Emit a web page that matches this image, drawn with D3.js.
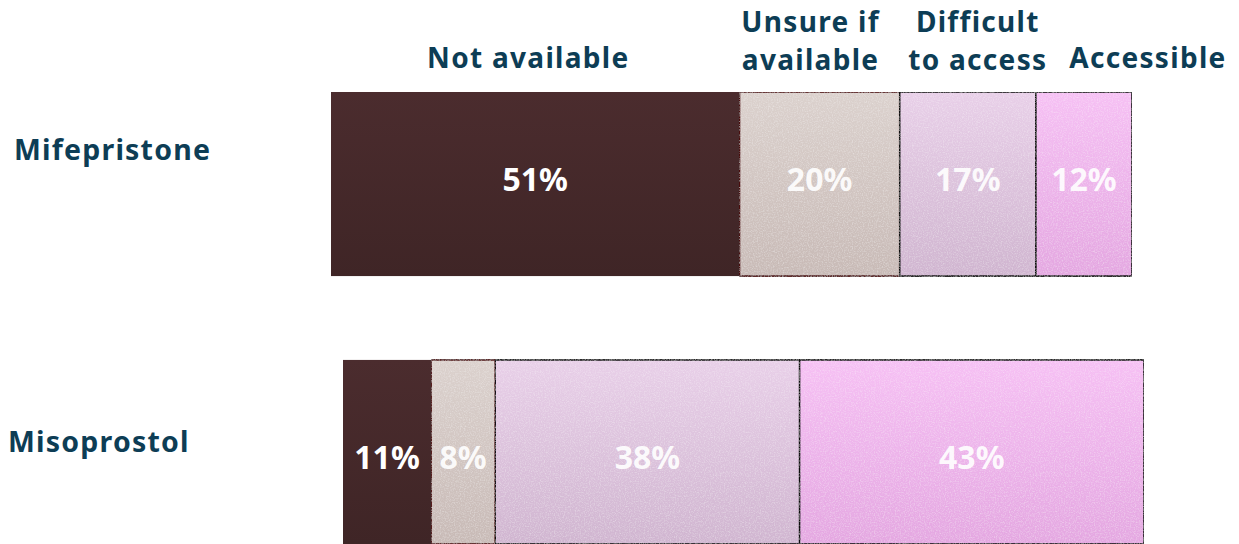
<!DOCTYPE html>
<html>
<head>
<meta charset="utf-8">
<script src="https://cdn.jsdelivr.net/npm/d3@7"></script>
<style>
  body { margin: 0; background: #fff; }
  text { font-family: "Noto Sans", sans-serif; font-weight: 700; }
</style>
</head>
<body>
<div class="chart"></div>
<script>
// data
const drugs = ["Mifepristone", "Misoprostol"];
const categories = ["Not available", "Unsure if available", "Difficult to access", "Accessible"];
const headerLines = [["Not available"], ["Unsure if", "available"], ["Difficult", "to access"], ["Accessible"]];
const mifepristone = [51, 20, 17, 12];
const misoprostol = [11, 8, 38, 43];

const values = [mifepristone, misoprostol];

// layout
const width = 1239, height = 544;
const rowShift = [331, 343];          // bars are not aligned in the original
const labelX = [14, 8];
const labelNudge = [-24, 0];
const valueNudge = [-4, 6];
const headerNudge = [-7, -9, 10, 64];  // header offset from segment centre
const headerY = [[68], [31.5, 70]];
const topColors = ["#4b2c2e", "#dbd1cd", "#e8cfe8", "#f6c0f4"];
const botColors = ["#3f2526", "#c8bab6", "#d0b5d0", "#e4a7e1"];
const strokes = ["none", "#4a0f10", "#111", "#111"];

const svg = d3.select(".chart").append("svg")
    .attr("width", width)
    .attr("height", height);

const defs = svg.append("defs");
categories.forEach((c, i) => {
    const g = defs.append("linearGradient")
        .attr("id", "grad" + i)
        .attr("x1", 0).attr("y1", 0).attr("x2", 0).attr("y2", 1);
    g.append("stop").attr("offset", "0%").attr("stop-color", topColors[i]);
    g.append("stop").attr("offset", "100%").attr("stop-color", botColors[i]);
});

// faint speckle like the original's texture
const grain = defs.append("filter").attr("id", "grain")
    .attr("x", 0).attr("y", 0).attr("width", 1).attr("height", 1);
grain.append("feTurbulence")
    .attr("type", "fractalNoise").attr("baseFrequency", 0.8)
    .attr("numOctaves", 2).attr("seed", 3).attr("result", "noise");
grain.append("feColorMatrix").attr("in", "noise").attr("type", "matrix")
    .attr("values", "0 0 0 0 1  0 0 0 0 1  0 0 0 0 1  0.7 0 0 0 -0.3")
    .attr("result", "speck");
grain.append("feComposite").attr("in", "speck").attr("in2", "SourceGraphic")
    .attr("operator", "in").attr("result", "sp");
grain.append("feMerge").call(m => {
    m.append("feMergeNode").attr("in", "SourceGraphic");
    m.append("feMergeNode").attr("in", "sp");
});

const xScale = d3.scaleLinear()
    .domain([0, 100])
    .range([0, 801]);

const yScale = d3.scaleBand()
    .domain(drugs)
    .range([92, 544])
    .paddingInner(0.313)
    .paddingOuter(0);

const rows = drugs.map((d, r) => {
    let acc = 0;
    return values[r].map((v, i) => {
        const s = {drug: d, row: r, cat: i, value: v, x0: acc, x1: acc + v};
        acc += v;
        return s;
    });
});

const row = svg.selectAll("g.row")
    .data(rows)
    .join("g")
    .attr("class", "row")
    .attr("transform", (d, r) => `translate(${rowShift[r]},0)`);

row.selectAll("rect")
    .data(d => d)
    .join("rect")
    .attr("x", d => xScale(d.x0))
    .attr("y", d => yScale(d.drug))
    .attr("width", d => xScale(d.x1) - xScale(d.x0))
    .attr("height", yScale.bandwidth())
    .attr("fill", d => `url(#grad${d.cat})`)
    .attr("stroke", d => strokes[d.cat])
    .attr("stroke-width", 1.6)
    .attr("filter", d => d.cat > 0 ? "url(#grain)" : null);

row.selectAll("text.val")
    .data(d => d)
    .join("text")
    .attr("class", "val")
    .attr("x", d => xScale((d.x0 + d.x1) / 2))
    .attr("y", d => yScale(d.drug) + yScale.bandwidth() / 2 + valueNudge[d.row])
    .attr("dy", "0.35em")
    .attr("text-anchor", "middle")
    .attr("fill", "#fff")
    .attr("fill-opacity", d => d.cat > 0 ? 0.92 : 1)
    .attr("font-size", 32)
    .text(d => d.value + "%");

// row labels
svg.selectAll("text.drug")
    .data(drugs)
    .join("text")
    .attr("class", "drug")
    .attr("x", (d, r) => labelX[r])
    .attr("y", (d, r) => yScale(d) + yScale.bandwidth() / 2 + labelNudge[r])
    .attr("fill", "#0d3d55")
    .attr("font-size", 28.5)
    .attr("letter-spacing", 1.2)
    .text(d => d);

// column headers over the top bar, one text per line
const headRows = rows[0].flatMap(d => headerLines[d.cat].map((t, k, a) => ({
    t, k, n: a.length,
    x: rowShift[0] + xScale((d.x0 + d.x1) / 2) + headerNudge[d.cat]
})));

svg.selectAll("text.head")
    .data(headRows)
    .join("text")
    .attr("class", "head")
    .attr("x", d => d.x)
    .attr("y", d => headerY[d.n - 1][d.k])
    .attr("text-anchor", "middle")
    .attr("fill", "#0d3d55")
    .attr("font-size", 28)
    .attr("letter-spacing", 1.3)
    .text(d => d.t);
</script>
</body>
</html>
